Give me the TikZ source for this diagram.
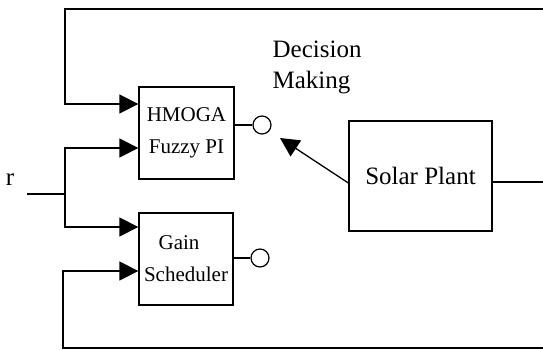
\documentclass[tikz,border=0pt]{standalone}
\usepackage{fontspec}
\setmainfont{Liberation Serif}
\usetikzlibrary{arrows.meta}
\begin{document}
\begin{tikzpicture}[x=1pt,y=-1pt, line width=1.3pt,
  blk/.style={draw, inner sep=0pt, align=center, font=\fontsize{21}{32}\selectfont},
  big/.style={font=\fontsize{25}{31}\selectfont},
  tip/.style={-{Triangle[length=19pt,width=19pt]}},
  port/.style={draw, circle, minimum size=18pt, inner sep=0pt, line width=1.2pt}]
\useasboundingbox (0,0) rectangle (543,350);
% blocks
\node[blk, minimum width=95pt, minimum height=92pt] (hm) at (186.5,133) {HMOGA\\Fuzzy PI};
\node[blk, minimum width=94pt, minimum height=92pt] (gs) at (186,259) {\hspace*{-14pt}Gain\\Scheduler};
\node[blk, big, minimum width=143pt, minimum height=110pt] (sp) at (420.5,176) {Solar Plant};
% ports
\node[port] (p1) at (262,125) {};
\node[port] (p2) at (260,258) {};
% labels
\node[big, anchor=west, align=left, inner sep=0pt] (dm) at (272,67) {Decision\\Making};
\node[big, inner sep=0pt] (r) at (10,180) {r};
% coordinates
\coordinate (tr) at (543,9);
\coordinate (tl) at (65,9);
\coordinate (br) at (543,348);
\coordinate (bl) at (63,348);
\coordinate (jn) at (65,194);
\coordinate (rin) at (27,194);
\coordinate (spo) at (543,182);
\coordinate (dmt) at (280,138);
% feedback top
\draw[tip] (tr) -- (tl) -- (65,104) -- (hm.west |- 0,104);
% reference split
\draw (rin) -- (jn);
\draw[tip] (jn) -- (65,148) -- (hm.west |- 0,148);
\draw[tip] (jn) -- (65,227) -- (gs.west |- 0,227);
% feedback bottom
\draw[tip] (br) -- (bl) -- (63,271) -- (gs.west |- 0,271);
% outputs to ports
\draw (hm.east |- p1) -- (p1.west);
\draw (gs.east |- p2) -- (p2.west);
% plant output
\draw (sp.east |- spo) -- (spo);
% decision arrow
\draw[tip] (sp.west |- 0,183) -- (dmt);
\end{tikzpicture}
\end{document}
